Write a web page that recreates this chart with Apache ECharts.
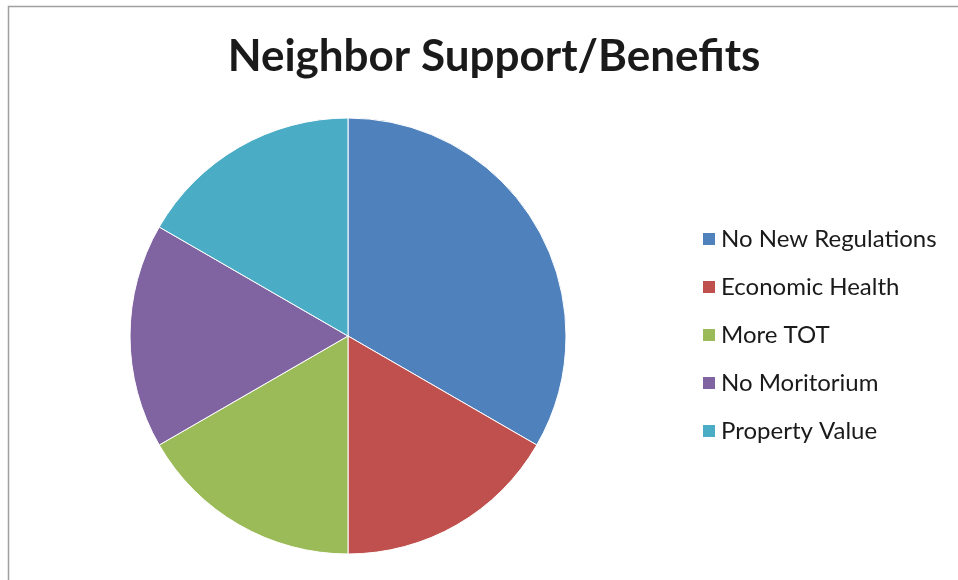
<!DOCTYPE html>
<html>
<head>
<meta charset="utf-8">
<script src="https://cdn.jsdelivr.net/npm/echarts@6/dist/echarts.min.js"></script>
<style>
  html, body { margin: 0; padding: 0; background: #fff; }
  #container1 { width: 958px; height: 580px; }
</style>
</head>
<body>
<div id="container1"></div>
<script>
// 数据
var categories = ['No New Regulations', 'Economic Health', 'More TOT', 'No Moritorium', 'Property Value'];
var values = [2, 1, 1, 1, 1];
var colors = ['#4F81BD', '#C0504D', '#9BBB59', '#8064A2', '#4BACC6'];

var myChart = echarts.init(document.getElementById('container1'));
var pieData = [];
for (var i = 0; i < categories.length; i++) {
    pieData.push({ name: categories[i], value: values[i] });
}
var option = {
    animation: false,
    color: colors,
    title: {
        text: 'Neighbor Support/Benefits',
        left: 489,
        top: 30,
        textAlign: 'center',
        textStyle: { fontFamily: 'Lato', fontWeight: 'bold', fontSize: 44, color: '#1a1a1a' }
    },
    legend: {
        orient: 'vertical',
        left: 701,
        top: 227,
        padding: 0,
        itemWidth: 14,
        itemHeight: 14,
        itemGap: 24,
        icon: 'rect',
        data: categories,
        textStyle: { fontFamily: 'Lato', fontSize: 24, lineHeight: 24, color: '#1a1a1a', padding: [0, 0, 0, 0] }
    },
    graphic: [{
        type: 'rect',
        shape: { x: 8.5, y: 6.5, width: 980, height: 600 },
        style: { fill: null, stroke: '#a0a0a0', lineWidth: 1.5 },
        silent: true
    }],
    series: [{
        type: 'pie',
        center: [348, 336],
        radius: 218,
        startAngle: 90,
        clockwise: true,
        label: { show: false },
        labelLine: { show: false },
        itemStyle: { borderColor: '#fff', borderWidth: 1 },
        data: pieData
    }]
};
myChart.setOption(option);
</script>
</body>
</html>
